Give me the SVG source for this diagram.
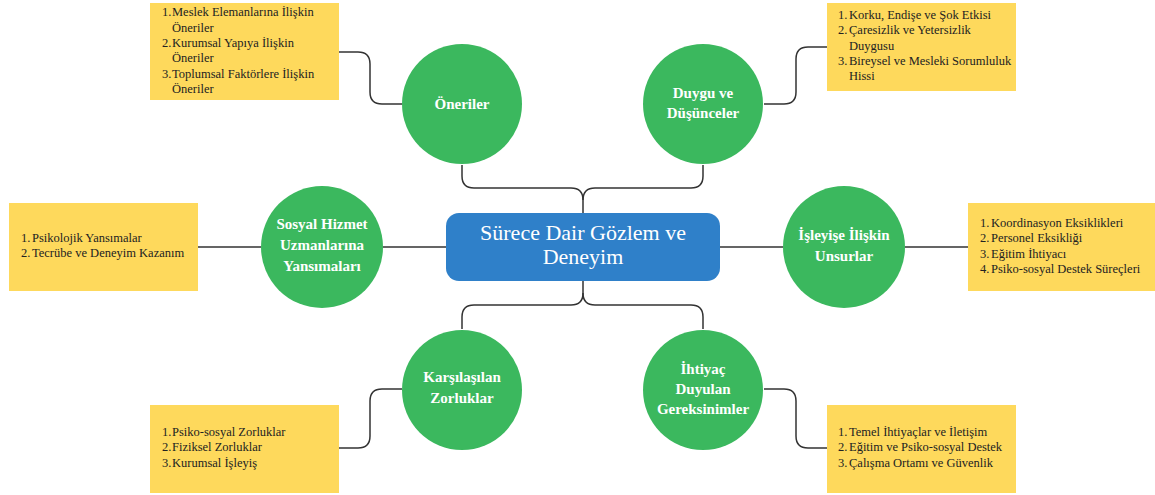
<svg xmlns="http://www.w3.org/2000/svg" width="1155" height="495" viewBox="0 0 1155 495">
<style>
.c{fill:#3BB85E}
.y{fill:#FED95C}
.ct{font-family:"Liberation Serif","Times New Roman",Times,"DejaVu Serif",serif;font-weight:bold;font-size:15px;fill:#fff;text-anchor:middle}
.bt{font-family:"Liberation Serif","Times New Roman",Times,"DejaVu Serif",serif;font-size:12.5px;fill:#222}
.mt{font-family:"Liberation Serif","Times New Roman",Times,"DejaVu Serif",serif;font-size:22px;fill:#fff;text-anchor:middle}
.ln{fill:none;stroke:#333;stroke-width:1.5}
</style>
<rect width="1155" height="495" fill="#fff"/>
<g id="connectors">
<path class="ln" d="M462,165 V176 Q462,188 474,188 H571 Q583,188 583,200 V213"/>
<path class="ln" d="M703,165 V176 Q703,188 691,188 H595 Q583,188 583,200"/>
<path class="ln" d="M583,281 V293 Q583,305 571,305 H474 Q462,305 462,317 V329"/>
<path class="ln" d="M583,293 Q583,305 595,305 H691 Q703,305 703,317 V329"/>
<path class="ln" d="M198,247 H261 M383,247 H446 M720,247 H783 M905,247 H968"/>
<path class="ln" d="M339,52 H358 Q370,52 370,64 V92 Q370,104 382,104 H402"/>
<path class="ln" d="M764,104 H784 Q796,104 796,92 V59 Q796,47 808,47 H827"/>
<path class="ln" d="M402,389 H382 Q370,389 370,401 V436 Q370,448 358,448 H339"/>
<path class="ln" d="M764,389 H784 Q796,389 796,401 V436 Q796,448 808,448 H827"/>
</g>
<g id="center">
<rect x="446" y="213" width="274" height="68" rx="13" fill="#2F80C9"/>
<text class="mt" x="583" y="240">Sürece Dair Gözlem ve</text>
<text class="mt" x="583" y="264">Deneyim</text>
</g>
<g id="oneriler">
<circle class="c" cx="462" cy="104" r="60"/>
<text class="ct" x="462" y="109">Öneriler</text>
</g>
<g id="duygu">
<circle class="c" cx="703" cy="104" r="60"/>
<text class="ct" x="703" y="98">Duygu ve</text>
<text class="ct" x="703" y="118">Düşünceler</text>
</g>
<g id="sosyal">
<circle class="c" cx="322" cy="247" r="61"/>
<text class="ct" x="322" y="229">Sosyal Hizmet</text>
<text class="ct" x="322" y="250">Uzmanlarına</text>
<text class="ct" x="322" y="271">Yansımaları</text>
</g>
<g id="isleyis">
<circle class="c" cx="844" cy="247" r="61"/>
<text class="ct" x="844" y="240">İşleyişe İlişkin</text>
<text class="ct" x="844" y="261">Unsurlar</text>
</g>
<g id="zorluk">
<circle class="c" cx="462" cy="390" r="60"/>
<text class="ct" x="462" y="382">Karşılaşılan</text>
<text class="ct" x="462" y="403">Zorluklar</text>
</g>
<g id="ihtiyac">
<circle class="c" cx="703" cy="390" r="60"/>
<text class="ct" x="703" y="374">İhtiyaç</text>
<text class="ct" x="703" y="394">Duyulan</text>
<text class="ct" x="703" y="414">Gereksinimler</text>
</g>
<g id="box-oneriler">
<rect class="y" x="150" y="3" width="189" height="97"/>
<text class="bt" x="162" y="16">1.</text><text class="bt" x="172" y="16">Meslek Elemanlarına İlişkin</text>
<text class="bt" x="172" y="31.5">Öneriler</text>
<text class="bt" x="162" y="47">2.</text><text class="bt" x="172" y="47">Kurumsal Yapıya İlişkin</text>
<text class="bt" x="172" y="62">Öneriler</text>
<text class="bt" x="162" y="77.5">3.</text><text class="bt" x="172" y="77.5">Toplumsal Faktörlere İlişkin</text>
<text class="bt" x="172" y="93">Öneriler</text>
</g>
<g id="box-duygu">
<rect class="y" x="827" y="3" width="189" height="88"/>
<text class="bt" x="838" y="19">1.</text><text class="bt" x="849" y="19">Korku, Endişe ve Şok Etkisi</text>
<text class="bt" x="838" y="34">2.</text><text class="bt" x="849" y="34">Çaresizlik ve Yetersizlik</text>
<text class="bt" x="849" y="49.5">Duygusu</text>
<text class="bt" x="838" y="65">3.</text><text class="bt" x="849" y="65">Bireysel ve Mesleki Sorumluluk</text>
<text class="bt" x="849" y="80">Hissi</text>
</g>
<g id="box-sosyal">
<rect class="y" x="9" y="203" width="189" height="88"/>
<text class="bt" x="21" y="242">1.</text><text class="bt" x="32" y="242">Psikolojik Yansımalar</text>
<text class="bt" x="21" y="257">2.</text><text class="bt" x="32" y="257">Tecrübe ve Deneyim Kazanım</text>
</g>
<g id="box-isleyis">
<rect class="y" x="968" y="203" width="187" height="88"/>
<text class="bt" x="980" y="227">1.</text><text class="bt" x="991" y="227">Koordinasyon Eksiklikleri</text>
<text class="bt" x="980" y="242">2.</text><text class="bt" x="991" y="242">Personel Eksikliği</text>
<text class="bt" x="980" y="257.5">3.</text><text class="bt" x="991" y="257.5">Eğitim İhtiyacı</text>
<text class="bt" x="980" y="273">4.</text><text class="bt" x="991" y="273">Psiko-sosyal Destek Süreçleri</text>
</g>
<g id="box-zorluk">
<rect class="y" x="150" y="405" width="189" height="88"/>
<text class="bt" x="162" y="436">1.</text><text class="bt" x="172" y="436">Psiko-sosyal Zorluklar</text>
<text class="bt" x="162" y="451">2.</text><text class="bt" x="172" y="451">Fiziksel Zorluklar</text>
<text class="bt" x="162" y="467">3.</text><text class="bt" x="172" y="467">Kurumsal İşleyiş</text>
</g>
<g id="box-ihtiyac">
<rect class="y" x="827" y="405" width="189" height="88"/>
<text class="bt" x="838" y="436">1.</text><text class="bt" x="849" y="436">Temel İhtiyaçlar ve İletişim</text>
<text class="bt" x="838" y="451">2.</text><text class="bt" x="849" y="451">Eğitim ve Psiko-sosyal Destek</text>
<text class="bt" x="838" y="467">3.</text><text class="bt" x="849" y="467">Çalışma Ortamı ve Güvenlik</text>
</g>
</svg>
